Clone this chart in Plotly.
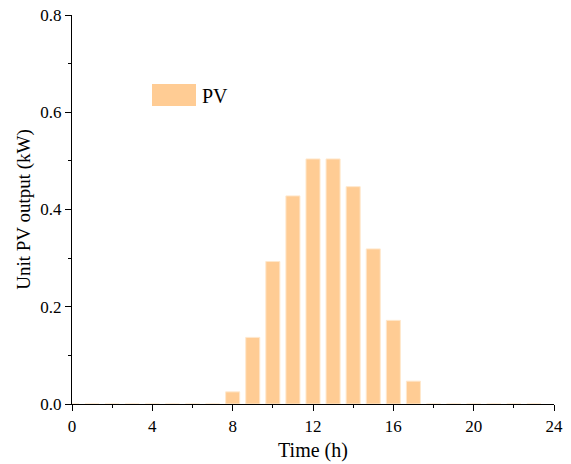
import plotly.graph_objects as go

hours = list(range(24))
pv_output = [0, 0, 0, 0, 0, 0, 0, 0,
             0.025, 0.137, 0.293, 0.428, 0.504, 0.504, 0.447, 0.319, 0.172, 0.047,
             0, 0, 0, 0, 0, 0]
series_name = "PV"
bar_color = "rgb(255,204,148)"

fig = go.Figure()
fig.add_trace(go.Bar(x=hours, y=pv_output, name=series_name, width=0.7,
                     marker=dict(color=bar_color, line=dict(color="rgb(255,232,205)", width=1)),
                     showlegend=False))

font = "Liberation Serif, Times New Roman, serif"
axis_common = dict(showline=True, linecolor="black", linewidth=1.2, ticks="outside",
                   ticklen=6, tickwidth=1.2, tickcolor="black", showgrid=False, zeroline=False,
                   tickfont=dict(family=font, size=17, color="black"),
                   mirror=False, automargin=False)
fig.update_layout(
    width=571, height=464,
    margin=dict(l=72, r=17, t=15, b=60),
    plot_bgcolor="white", paper_bgcolor="white",
    xaxis=dict(range=[0, 24], tickmode="linear", tick0=0, dtick=4,
               minor=dict(dtick=2, ticklen=3, tickwidth=1.2, tickcolor="black", ticks="outside"),
               title=dict(text="Time (h)", font=dict(family=font, size=20, color="black"), standoff=8),
               **axis_common),
    yaxis=dict(range=[0, 0.8], tickmode="linear", tick0=0, dtick=0.2, tickformat=".1f",
               minor=dict(dtick=0.1, ticklen=3, tickwidth=1.2, tickcolor="black", ticks="outside"),
               title=dict(text="Unit PV output (kW)", font=dict(family=font, size=19, color="black"), standoff=4),
               **axis_common),
    bargap=0.3,
)
# legend-like swatch and label
fig.add_shape(type="rect", xref="paper", yref="paper",
              x0=(152 - 72) / 482, x1=(196 - 72) / 482,
              y0=(404 - 106) / 389, y1=(404 - 84) / 389,
              fillcolor=bar_color, line=dict(width=0))
fig.add_annotation(xref="paper", yref="paper", x=(200 - 72) / 482, y=(404 - 96) / 389,
                   text=series_name, showarrow=False, xanchor="left", yanchor="middle",
                   font=dict(family=font, size=20, color="black"))

fig.write_html("out.html")
